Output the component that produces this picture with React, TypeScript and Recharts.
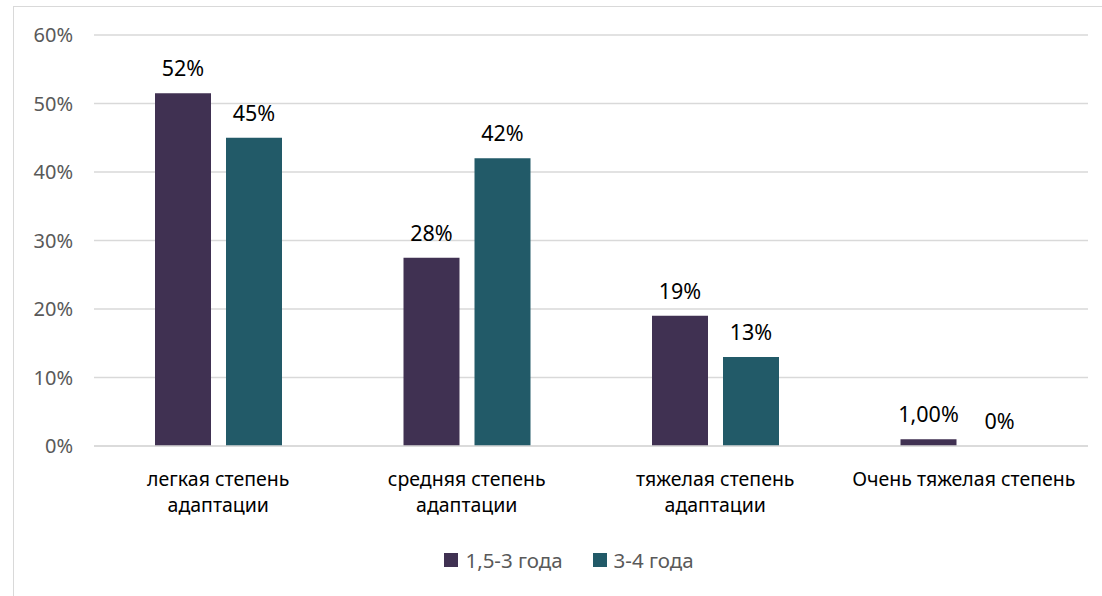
import React from "react";
import { BarChart, Bar, XAxis, YAxis, CartesianGrid, LabelList } from "recharts";

const categories = [
  "легкая степень\nадаптации",
  "средняя степень\nадаптации",
  "тяжелая степень\nадаптации",
  "Очень тяжелая степень",
];
const youngerValues = [0.515, 0.275, 0.19, 0.01];
const olderValues = [0.45, 0.42, 0.13, 0];
const youngerLabels = ["52%", "28%", "19%", "1,00%"];
const olderLabels = ["45%", "42%", "13%", "0%"];
const yTicks = [0, 0.1, 0.2, 0.3, 0.4, 0.5, 0.6];
const seriesNames = ["1,5-3 года", "3-4 года"];

const COLORS = ["#403152", "#225a68"];
const FONT = "'Noto Sans', sans-serif";

const data = categories.map((c, i) => ({
  name: c,
  young: youngerValues[i],
  old: olderValues[i],
  youngLabel: youngerLabels[i],
  oldLabel: olderLabels[i],
}));

function CategoryTick({ x, y, payload }: any) {
  const lines = String(payload.value).split("\n");
  return (
    <text x={x} y={y} textAnchor="middle" fill="#000" fontSize={19.5} fontFamily={FONT}>
      {lines.map((l, i) => (
        <tspan key={i} x={x} dy={i === 0 ? 32 : 26}>
          {l}
        </tspan>
      ))}
    </text>
  );
}

function makeLabel(labels: string[]) {
  return (props: any) => {
    const { x, y, width, index } = props;
    return (
      <text
        x={x + width / 2}
        y={y - 17}
        textAnchor="middle"
        fill="#000"
        fontSize={21.5}
        fontFamily={FONT}
      >
        {labels[index]}
      </text>
    );
  };
}

// keeps zero-value bars in the layout so their label is still drawn
const zeroSafe = (v: number) => (v === 0 ? 0.01 : 0);

export default function App() {
  return (
    <div style={{ position: "absolute", left: 0, top: 0, width: 1102, height: 596, background: "#fff", overflow: "hidden" }}>
      <div
        style={{
          position: "absolute",
          left: 13,
          top: 6,
          width: 1100,
          height: 600,
          border: "1px solid #d9d9d9",
          boxSizing: "border-box",
        }}
      />
      <div style={{ position: "absolute", left: 0, top: 0 }}>
        <BarChart
          width={1102}
          height={596}
          data={data}
          margin={{ top: 35, right: 14, left: 34, bottom: 70 }}
          barSize={56}
          barGap={15}
        >
          <CartesianGrid vertical={false} stroke="#d9d9d9" strokeWidth={1.3} />
          <XAxis
            dataKey="name"
            height={80}
            axisLine={{ stroke: "#d9d9d9", strokeWidth: 1.3 }}
            tickLine={false}
            interval={0}
            tick={<CategoryTick />}
          />
          <YAxis
            width={60}
            domain={[0, 0.6]}
            ticks={yTicks}
            axisLine={false}
            tickLine={false}
            tickMargin={15}
            tickFormatter={(v: number) => `${Math.round(v * 100)}%`}
            tick={{ fill: "#595959", fontSize: 20, fontFamily: FONT }}
          />
          <Bar dataKey="young" fill={COLORS[0]} minPointSize={zeroSafe} isAnimationActive={false}>
            <LabelList dataKey="youngLabel" content={makeLabel(youngerLabels)} />
          </Bar>
          <Bar dataKey="old" fill={COLORS[1]} minPointSize={zeroSafe} isAnimationActive={false}>
            <LabelList dataKey="oldLabel" content={makeLabel(olderLabels)} />
          </Bar>
        </BarChart>
      </div>
      <div
        style={{
          position: "absolute",
          top: 546,
          left: 0,
          width: 1138,
          display: "flex",
          justifyContent: "center",
          gap: 30,
          fontFamily: FONT,
          fontSize: 20.5,
          color: "#595959",
        }}
      >
        {seriesNames.map((n, i) => (
          <div key={n} style={{ display: "flex", alignItems: "center", gap: 7 }}>
            <span style={{ width: 14, height: 14, background: COLORS[i], display: "inline-block" }} />
            <span>{n}</span>
          </div>
        ))}
      </div>
    </div>
  );
}
